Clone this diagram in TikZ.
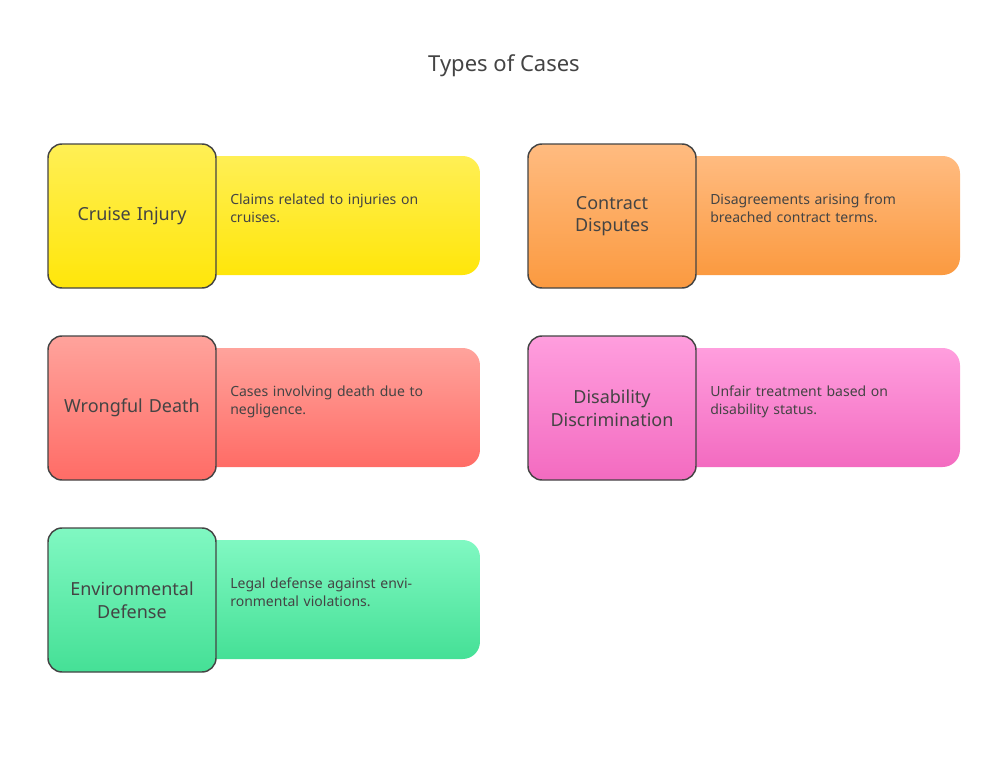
\documentclass[tikz,border=0pt]{standalone}
\usepackage{fontspec}
\setmainfont{Noto Sans}
\definecolor{txt}{HTML}{444444}
\begin{document}
\begin{tikzpicture}[x=0.75pt,y=-0.75pt,
  sq/.style={draw=txt,line width=1.1pt,rounded corners=10.5pt,minimum width=126pt,minimum height=108pt,inner sep=2pt,text width=120pt,align=center,font=\bfseries\fontsize{13.5}{17}\selectfont,text=txt},
  bar/.style={rounded corners=13pt},
  desc/.style={anchor=north west,text width=150pt,align=left,inner sep=0pt,font=\fontsize{10.5}{13.5}\selectfont,text=txt}]
\useasboundingbox (0,0) rectangle (1008,757);
\node[font=\bfseries\fontsize{16.5}{20}\selectfont,text=txt] (title) at (504,66) {Types of Cases};
% item: x, y, top, bottom, label, desc
\foreach \x/\y/\ct/\cb/\lab/\ds/\n in {
 48/144/FFEF55/FFE60A/{Cruise Injury}/{Claims related to injuries on cruises.}/a,
 528/144/FFBB80/FB9A40/{Contract\\Disputes}/{Disagreements arising from breached contract terms.}/b,
 48/336/FFA39C/FF6C66/{Wrongful Death}/{Cases involving death due to negligence.}/c,
 528/336/FF9EDE/F36BC0/{Disability\\Discrimination}/{Unfair treatment based on disability status.}/d,
 48/528/80F8C2/45E096/{Environmental\\Defense}/{Legal defense against environmental violations.}/e}{
  \definecolor{ct}{HTML}{\ct}\definecolor{cb}{HTML}{\cb}
  \shade[bar,top color=ct,bottom color=cb] (\x+150,\y+12) rectangle (\x+432,\y+131);
  \node[sq,top color=ct,bottom color=cb] (\n) at (\x+84,\y+72) {\lab};
  \node[desc] (\n d) at (\x+182,\y+50) {\ds};
}
\end{tikzpicture}
\end{document}
